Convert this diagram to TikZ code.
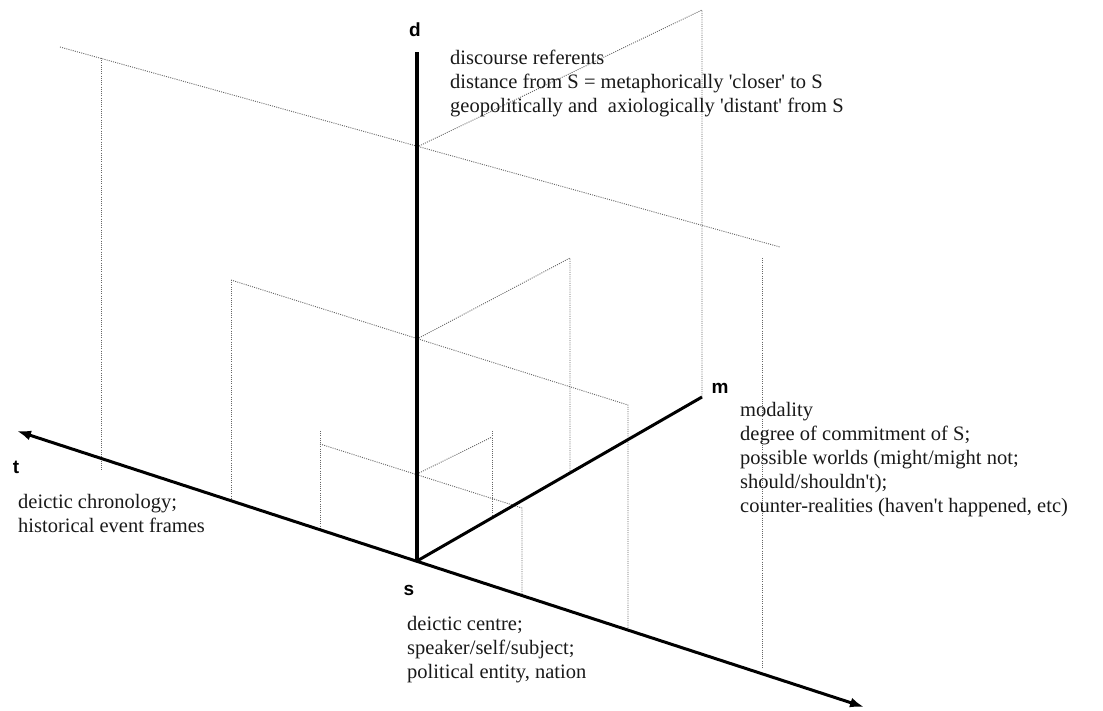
\documentclass[tikz,border=0pt]{standalone}
\usepackage{fontspec}
\setmainfont{Liberation Serif}[Ligatures=TeXOff]
\newfontfamily\lblfont{Liberation Sans}
\usetikzlibrary{arrows.meta}
\newcommand{\blk}[1]{\begin{tabular}[t]{@{}l@{}}#1\end{tabular}}
\begin{document}
\begin{tikzpicture}[x=1pt,y=-1pt,
  axis/.style={line width=3pt,black},
  guide/.style={black!60,line width=0.9pt,dash pattern=on 1pt off 1.2pt},
  lbl/.style={font=\lblfont\bfseries\fontsize{19}{22}\selectfont,inner sep=0},
  desc/.style={font=\fontsize{20.5}{24}\selectfont,inner sep=0,anchor=base west,text=black!90}]
\useasboundingbox (0,0) rectangle (1103,711);
% axes coordinates
\coordinate (O) at (417,561);
\coordinate (D) at (417,52);
\coordinate (T) at (17,431);
\coordinate (B) at (864,707);
\coordinate (M) at (702,397);
% large frame
\coordinate (a1) at (60,47);
\coordinate (a2) at (780,247);
\coordinate (a3) at (101,58);
\coordinate (a4) at (101,470);
\coordinate (a5) at (417,147);
\coordinate (a6) at (702,10);
\coordinate (a7) at (762,258);
\coordinate (a8) at (762,668);
% middle frame
\coordinate (b1) at (231,280);
\coordinate (b2) at (628,405);
\coordinate (b3) at (231,499);
\coordinate (b4) at (417,339);
\coordinate (b5) at (570,258);
\coordinate (b6) at (570,473);
\coordinate (b7) at (628,629);
% small frame
\coordinate (c1) at (320,444);
\coordinate (c2) at (522,508);
\coordinate (c3) at (320,431);
\coordinate (c4) at (320,530);
\coordinate (c5) at (417,474);
\coordinate (c6) at (492,437);
\coordinate (c7) at (492,431);
\coordinate (c8) at (492,516);
\coordinate (c9) at (522,595);
% guides
\draw[guide] (a1) -- (a2);
\draw[guide] (a3) -- (a4);
\draw[guide] (a5) -- (a6) -- (M);
\draw[guide] (a7) -- (a8);
\draw[guide] (b1) -- (b2) -- (b7);
\draw[guide] (b1) -- (b3);
\draw[guide] (b4) -- (b5) -- (b6);
\draw[guide] (c1) -- (c2) -- (c9);
\draw[guide] (c3) -- (c4);
\draw[guide] (c5) -- (c6);
\draw[guide] (c7) -- (c8);
% axes
\draw[axis,{Latex[length=14pt,width=10pt]}-{Latex[length=14pt,width=10pt]}] (T) -- (B);
\draw[axis] (O) -- (M);
\draw[axis,line width=4pt] (O) -- (D);
% labels
\node[lbl] (ld) at (415,30) {d};
\node[lbl] (lt) at (16,467) {t};
\node[lbl] (lm) at (720,388) {m};
\node[lbl] (ls) at (409,590) {s};
% descriptions
\node[desc] (dtext) at (450,65) {\blk{discourse referents\\distance from S = metaphorically 'closer' to S\\geopolitically and\ \ axiologically 'distant' from S}};
\node[desc] (mtext) at (740,416) {\blk{modality\\degree of commitment of S;\\possible worlds (might/might not;\\should/shouldn't);\\counter-realities (haven't happened, etc)}};
\node[desc] (ttext) at (18,508) {\blk{deictic chronology;\\historical event frames}};
\node[desc] (stext) at (407,630) {\blk{deictic centre;\\speaker/self/subject;\\political entity, nation}};
\end{tikzpicture}
\end{document}
